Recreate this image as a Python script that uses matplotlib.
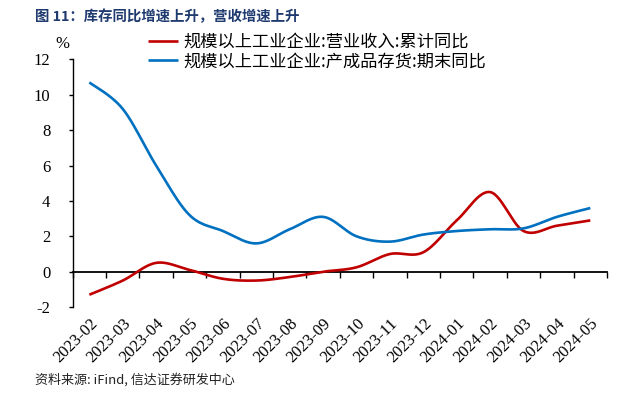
import matplotlib
matplotlib.use('Agg')
import matplotlib.pyplot as plt
import numpy as np

plt.rcParams['font.family'] = ['Liberation Serif', 'Noto Sans CJK SC', 'DejaVu Sans']
plt.rcParams['axes.unicode_minus'] = False

months = ['2023-02', '2023-03', '2023-04', '2023-05', '2023-06', '2023-07', '2023-08', '2023-09',
          '2023-10', '2023-11', '2023-12', '2024-01', '2024-02', '2024-03', '2024-04', '2024-05']
revenue = [-1.3, -0.5, 0.5, 0.1, -0.4, -0.5, -0.3, 0.0, 0.25, 1.0, 1.1, 2.9, 4.5, 2.3, 2.6, 2.9]
inventory = [10.7, 9.2, 6.0, 3.2, 2.3, 1.6, 2.4, 3.1, 2.0, 1.7, 2.1, 2.3, 2.4, 2.45, 3.1, 3.6]
name_rev = '规模以上工业企业:营业收入:累计同比'
name_inv = '规模以上工业企业:产成品存货:期末同比'

RED = '#C00000'
BLUE = '#0070C0'


def smooth(x, y, n=30):
    # excel style smoothed line (catmull-rom bezier)
    x = np.asarray(x, float)
    y = np.asarray(y, float)
    px = np.concatenate([[x[0]], x, [x[-1]]])
    py = np.concatenate([[y[0]], y, [y[-1]]])
    xs, ys = [], []
    t = np.linspace(0, 1, n)
    for i in range(1, len(px) - 2):
        x0, x1 = px[i], px[i + 1]
        y0, y1 = py[i], py[i + 1]
        cx1 = x0 + (px[i + 1] - px[i - 1]) / 6
        cy1 = y0 + (py[i + 1] - py[i - 1]) / 6
        cx2 = x1 - (px[i + 2] - px[i]) / 6
        cy2 = y1 - (py[i + 2] - py[i]) / 6
        bx = (1-t)**3*x0 + 3*(1-t)**2*t*cx1 + 3*(1-t)*t**2*cx2 + t**3*x1
        by = (1-t)**3*y0 + 3*(1-t)**2*t*cy1 + 3*(1-t)*t**2*cy2 + t**3*y1
        xs.append(bx)
        ys.append(by)
    return np.concatenate(xs), np.concatenate(ys)


fig = plt.figure(figsize=(6.21, 3.96), dpi=100)
ax = fig.add_axes([0.117, 0.2245, 0.8605, 0.6255])

x = np.arange(len(months))
sx, sy = smooth(x, revenue)
ax.plot(sx, sy, color=RED, lw=1.9, label=name_rev, solid_capstyle='butt')
sx, sy = smooth(x, inventory)
ax.plot(sx, sy, color=BLUE, lw=1.9, label=name_inv, solid_capstyle='butt')

ax.set_xlim(-0.5, len(months) - 0.5)
ax.set_ylim(-2, 12)
ax.set_yticks(range(-2, 13, 2))
ax.tick_params(axis='y', direction='out', length=3, width=1, labelsize=12, pad=13)

# category labels at bottom, axis line at zero
ax.set_xticks(x)
ax.set_xticklabels(months, rotation=45, ha='right', va='top', rotation_mode='anchor', fontsize=12)
ax.tick_params(axis='x', length=0, pad=6)
for s in ['top', 'right', 'bottom']:
    ax.spines[s].set_visible(False)
ax.spines['left'].set_linewidth(1)

sec = ax.secondary_xaxis(2 / 14)
sec.set_xticks(np.arange(len(months) + 1) - 0.5)
sec.set_xticklabels([])
sec.tick_params(axis='x', direction='out', length=4, width=1)
sec.spines['bottom'].set_linewidth(1.3)

ax.text(-0.02, 1.03, '%', transform=ax.transAxes, fontsize=12, ha='center', va='bottom')

leg = ax.legend(loc='upper left', bbox_to_anchor=(0.128, 1.135), frameon=False,
                prop={'family': 'Noto Sans CJK SC', 'size': 12.4},
                handlelength=1.75, handletextpad=0.3, labelspacing=0.08, borderaxespad=0)

fig.text(0.056, 0.975, '图 11：库存同比增速上升，营收增速上升', fontsize=10.4, fontweight='bold',
         color='#1F3A6E', family=['Noto Sans CJK SC', 'DejaVu Sans'], va='top', ha='left')
fig.text(0.056, 0.04, '资料来源: iFind, 信达证券研发中心', fontsize=9.4, style='italic',
         color='#222222', family=['Noto Sans CJK SC', 'DejaVu Sans'], va='center', ha='left')

fig.savefig('out.png', dpi=100, facecolor='white')
